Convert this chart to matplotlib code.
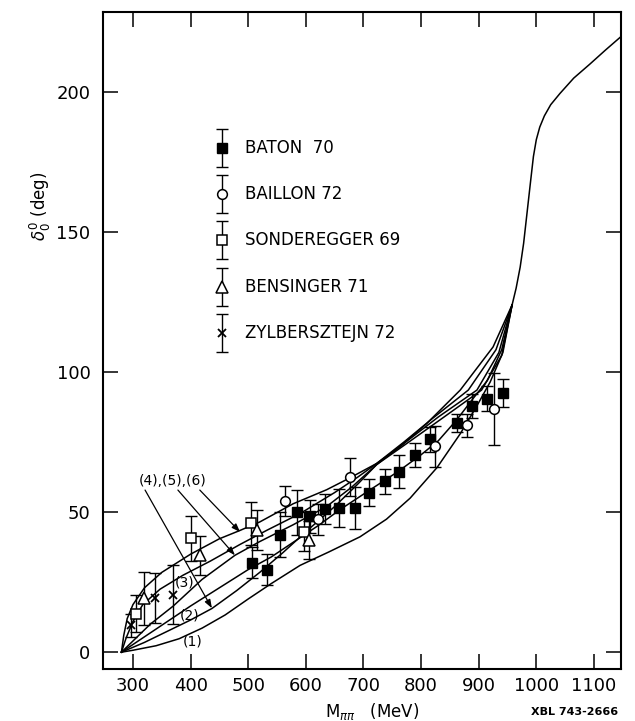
import matplotlib
matplotlib.use("Agg")
import matplotlib.pyplot as plt

# ---- phase-shift curves (M in MeV, delta in degrees) ----
curve1_x = [280, 300, 340, 380, 420, 460, 500, 540, 590, 640, 694, 740, 781, 828, 868, 897, 920, 942, 958]
curve1_y = [0, 0.7, 2.3, 4.8, 8.6, 13.3, 19, 24.5, 31, 35.8, 41.2, 47.5, 55, 66, 78, 88, 96.5, 107, 124]

curve2_x = [280, 320, 360, 400, 450, 500, 540, 580, 620, 660, 711, 760, 800, 830, 862, 890, 915, 940, 958]
curve2_y = [0, 5.5, 11, 16.5, 23, 29.5, 34, 39.5, 45, 51, 57.9, 64.5, 70.5, 75.5, 83, 90.5, 97, 108, 124]

curve3_x = [280, 288, 300, 317, 347, 387, 434, 486, 533, 590, 650, 690, 723, 770, 820, 882, 930, 958]
curve3_y = [0, 5, 11, 17, 22.5, 27.5, 32.5, 38.5, 43.6, 49.5, 57, 62.5, 67.4, 75, 83.5, 93.6, 108, 124]

curve4_x = [280, 320, 360, 400, 437, 480, 520, 560, 600, 650, 690, 723, 775, 840, 905, 940, 958]
curve4_y = [0, 3.5, 7.5, 11.5, 15.6, 22, 28.5, 35.5, 43, 52, 60, 67, 74.5, 84, 93.6, 106, 124]

curve5_x = [280, 300, 330, 370, 420, 477, 520, 578, 636, 680, 723, 770, 830, 897, 935, 958]
curve5_y = [0, 4, 10, 16.5, 26, 34.6, 39.5, 45.5, 52, 59, 67, 74.5, 84, 93.6, 107, 124]

curve6_x = [280, 284, 290, 300, 320, 350, 400, 450, 486, 520, 578, 636, 677, 723, 763, 810, 868, 925, 958]
curve6_y = [0, 6, 12, 17, 23, 28.5, 35, 40.5, 43.5, 46.5, 53, 58, 62.3, 67.4, 73.3, 81.7, 93.6, 109, 124]

# common resonance rise above the meeting point
tail_x = [958, 965, 972, 978, 984, 990, 995, 1000, 1006, 1014, 1025, 1041, 1065, 1093, 1120, 1148]
tail_y = [124, 130, 137.5, 146, 157, 168, 177, 183, 187.5, 191.5, 195.5, 199.5, 205, 210, 215, 220]

# ---- measurements ----
baton_m = [506, 532, 555, 584, 608, 634, 658, 686, 710, 737, 762, 790, 815, 862, 889, 914, 942]
baton_d = [32, 29.5, 42, 50, 48.5, 51, 51.5, 51.5, 57, 61, 64.5, 70.5, 76, 82, 88, 90.5, 92.5]
baton_e = [5.5, 5.5, 8, 8, 6, 5.4, 6.7, 7.6, 4.8, 4.4, 5.8, 4.3, 4.5, 3.2, 4.2, 4.5, 4.9]

baillon_m = [564, 622, 677, 824, 879, 927]
baillon_d = [54, 47.4, 62.4, 73.6, 81, 86.8]
baillon_e = [5.4, 5.5, 6.8, 7.3, 4.2, 12.8]

sond_m = [306, 401, 505, 596]
sond_d = [13.8, 40.6, 46, 43]
sond_e = [6.5, 8, 7.7, 7]

bens_m = [320, 416, 515, 606]
bens_d = [19.2, 34.6, 43.6, 40.2]
bens_e = [9.5, 7, 7, 6.8]

zyl_m = [296, 338, 370]
zyl_d = [9.6, 19.4, 20.6]
zyl_e = [4, 9, 10.4]

legend_names = ["BATON  70", "BAILLON 72", "SONDEREGGER 69", "BENSINGER 71", "ZYLBERSZTEJN 72"]

x_ticks = [300, 400, 500, 600, 700, 800, 900, 1000, 1100]
y_ticks = [0, 50, 100, 150, 200]

W, H = 635, 721
fig = plt.figure(figsize=(W / 100, H / 100), dpi=100)
ax = fig.add_axes([103 / W, 1 - 669 / H, (621 - 103) / W, (669 - 12) / H])
ax.set_xlim(248, 1147)
ax.set_ylim(-6, 228.6)

ink = "black"
lw = 1.1
for cx, cy in [(curve1_x, curve1_y), (curve2_x, curve2_y), (curve3_x, curve3_y),
               (curve4_x, curve4_y), (curve5_x, curve5_y), (curve6_x, curve6_y)]:
    ax.plot(cx, cy, color=ink, lw=lw, zorder=2)
ax.plot(tail_x, tail_y, color=ink, lw=lw, zorder=2)

styles = [
    dict(marker="s", ms=7, mfc=ink, mec=ink),
    dict(marker="o", ms=7, mfc="white", mec=ink, mew=1.1),
    dict(marker="s", ms=7, mfc="white", mec=ink, mew=1.1),
    dict(marker="^", ms=9, mfc="white", mec=ink, mew=1.1),
    dict(marker="x", ms=6, mfc="none", mec=ink, mew=1.3),
]
sets = [(baton_m, baton_d, baton_e), (baillon_m, baillon_d, baillon_e),
        (sond_m, sond_d, sond_e), (bens_m, bens_d, bens_e), (zyl_m, zyl_d, zyl_e)]

for (m, d, e), st in zip(sets, styles):
    ax.errorbar(m, d, yerr=e, fmt="none", ecolor=ink, elinewidth=1.0,
                capsize=4, capthick=1.0, zorder=3)
    ax.plot(m, d, linestyle="none", zorder=4, **st)

# legend drawn as sample points with error bars
leg_x = 454
leg_y = [180, 163.6, 147.1, 130.4, 113.9]
for yy, st, name in zip(leg_y, styles, legend_names):
    ax.errorbar([leg_x], [yy], yerr=[6.8], fmt="none", ecolor=ink, elinewidth=1.0,
                capsize=4, capthick=1.0, zorder=3)
    ax.plot([leg_x], [yy], linestyle="none", zorder=4, **st)
    ax.text(leg_x + 40, yy, name, fontsize=12, va="center", ha="left")

# curve labels
lab_kw = dict(fontsize=10, ha="center", va="center")
ax.text(390, 25, "(3)", **lab_kw)
ax.text(399, 13.2, "(2)", **lab_kw)
ax.text(404, 3.7, "(1)", **lab_kw)
ax.text(369, 61, "(4),(5),(6)", **lab_kw)
for (sx, sy), (tx, ty) in [((321, 57.9), (437, 15.7)),
                           ((378, 57.9), (477, 34.6)),
                           ((416, 57.9), (486, 42.9))]:
    ax.annotate("", xy=(tx, ty), xytext=(sx, sy),
                arrowprops=dict(arrowstyle="-|>,head_length=0.5,head_width=0.18",
                                color=ink, lw=0.9, shrinkA=0, shrinkB=0))

ax.set_xticks(x_ticks)
ax.set_yticks(y_ticks)
ax.tick_params(direction="in", length=11, width=1.1, top=True, right=True,
               labelsize=13, pad=9)
ax.tick_params(axis="x", pad=6)
for sp in ax.spines.values():
    sp.set_linewidth(1.5)

fig.text(40 / W, 1 - 206 / H, r"$\delta_0^0$ (deg)", fontsize=12, rotation=90,
         ha="center", va="center")
fig.text(372 / W, 1 - 711 / H, r"M$_{\pi\pi}$   (MeV)", fontsize=12,
         ha="center", va="center")
fig.text(575 / W, 1 - 712 / H, "XBL 743-2666", fontsize=8, fontweight="bold",
         ha="center", va="center")

fig.savefig("out.png", dpi=100)
